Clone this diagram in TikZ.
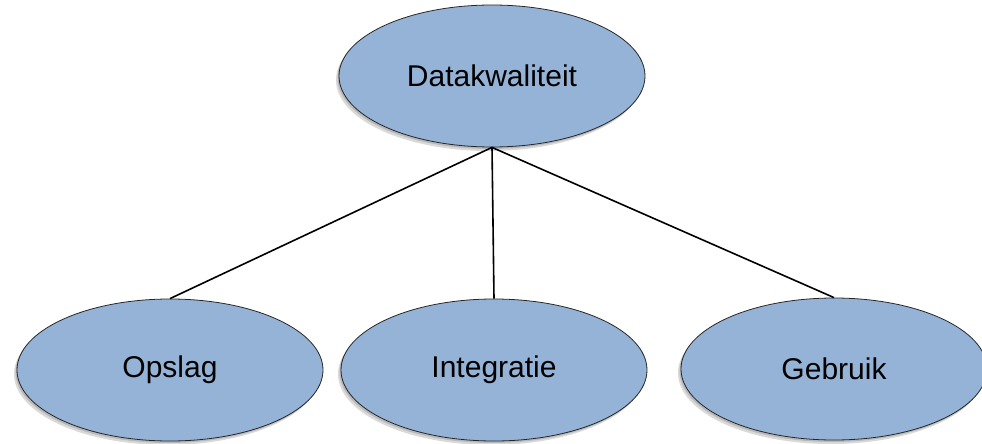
\documentclass[tikz,border=0pt]{standalone}
\usepackage{fontspec}
\setmainfont{Liberation Sans}
\usetikzlibrary{shapes.geometric,shadows}
\definecolor{ellfill}{HTML}{95B3D7}
\tikzset{
  ell/.style={ellipse, draw=black!85, line width=0.8pt, fill=ellfill,
    minimum width=306pt, minimum height=142pt, inner sep=0pt,
    font=\fontsize{30}{33}\selectfont,
    double copy shadow={shadow xshift=-1.5pt, shadow yshift=-2pt, opacity=0.15, fill=black, draw=none}},
  conn/.style={draw=black, line width=1.6pt}
}
\begin{document}
\begin{tikzpicture}[x=1pt,y=-1pt]
\useasboundingbox (0,0) rectangle (982,444);
\node[ell] (dk) at (492,76) {Datakwaliteit};
\node[ell] (op) at (170,370) {Opslag};
\node[ell] (in) at (494,370) {Integratie};
\node[ell] (ge) at (834,369) {Gebruik};
\draw[conn] (dk.south) -- (op.north);
\draw[conn] (dk.south) -- (in.north);
\draw[conn] (dk.south) -- (ge.north);
\end{tikzpicture}
\end{document}
